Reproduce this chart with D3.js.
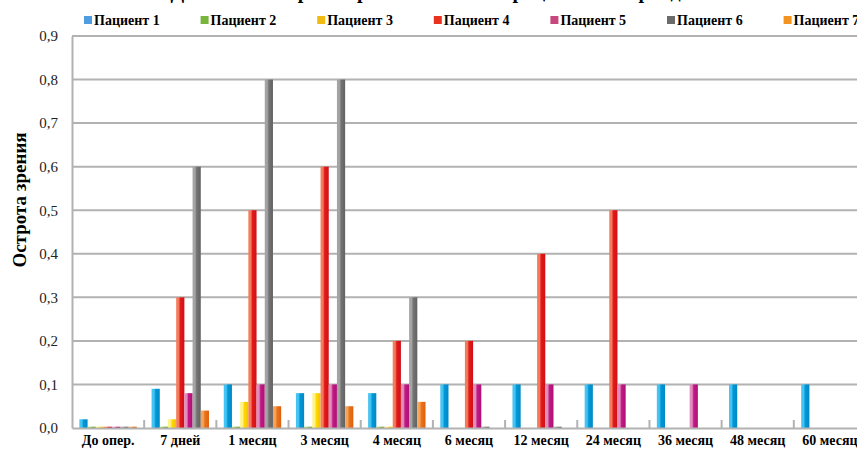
<!DOCTYPE html>
<html>
<head>
<meta charset="utf-8">
<script src="https://cdn.jsdelivr.net/npm/d3@7"></script>
<style>
  html, body { margin: 0; padding: 0; background: #fff; }
  svg { display: block; }
  text { font-family: "Liberation Serif", "Times New Roman", serif; }
</style>
</head>
<body>
<svg id="chart" width="857" height="450"></svg>
<script>
// Periods of observation
const categories = ["До опер.", "7 дней", "1 месяц", "3 месяц", "4 месяц", "6 месяц",
  "12 месяц", "24 месяц", "36 месяц", "48 месяц", "60 месяц"];

const seriesNames = ["Пациент 1", "Пациент 2", "Пациент 3", "Пациент 4",
  "Пациент 5", "Пациент 6", "Пациент 7"];

// Visual acuity per patient (null = no measurement)
const patient1 = [0.02, 0.09, 0.1, 0.08, 0.08, 0.1, 0.1, 0.1, 0.1, 0.1, 0.1];
const patient2 = [0.003, 0.003, 0.003, 0.003, 0.003, null, null, null, null, null, null];
const patient3 = [0.003, 0.02, 0.06, 0.08, 0.003, null, null, null, null, null, null];
const patient4 = [0.003, 0.3, 0.5, 0.6, 0.2, 0.2, 0.4, 0.5, null, null, null];
const patient5 = [0.003, 0.08, 0.1, 0.1, 0.1, 0.1, 0.1, 0.1, 0.1, null, null];
const patient6 = [0.003, 0.6, 0.8, 0.8, 0.3, 0.003, 0.003, null, null, null, null];
const patient7 = [0.003, 0.04, 0.05, 0.05, 0.06, null, null, null, null, null, null];

const yTicks = [0, 0.1, 0.2, 0.3, 0.4, 0.5, 0.6, 0.7, 0.8, 0.9];

const allSeries = [patient1, patient2, patient3, patient4, patient5, patient6, patient7];

// Bar shading (light edge, main, dark edge) and legend swatch colours
const barShades = [
  ["#45c3f2", "#0098d8", "#0088c6"],
  ["#b2d86a", "#78ad34", "#6a9e2a"],
  ["#fff386", "#ffd800", "#f2c000"],
  ["#f47c5c", "#e21a1a", "#cf1016"],
  ["#e28cc0", "#c21a82", "#ae1076"],
  ["#a4a4a4", "#747474", "#626262"],
  ["#f6a458", "#ea721c", "#de6010"]
];
const legendColors = ["#4f9de0", "#77b53c", "#f2bb13", "#e8321f", "#c8477c", "#6b6b6b", "#f39420"];

const svg = d3.select("#chart");
const plot = { left: 72, right: 866, top: 36, bottom: 428 };

const x0 = d3.scaleBand().domain(categories).range([plot.left, plot.right]).padding(0);
const x1 = d3.scaleBand().domain(seriesNames).range([0, x0.bandwidth()])
  .paddingInner(0).paddingOuter(0.9);
const y = d3.scaleLinear().domain([0, 0.9]).range([plot.bottom, plot.top]);

// Gradients for the cylindrical look of the bars
const defs = svg.append("defs");
barShades.forEach((s, i) => {
  const g = defs.append("linearGradient").attr("id", "grad" + i)
    .attr("x1", "0").attr("x2", "1").attr("y1", "0").attr("y2", "0");
  g.append("stop").attr("offset", "0").attr("stop-color", s[0]);
  g.append("stop").attr("offset", "0.3").attr("stop-color", s[0]);
  g.append("stop").attr("offset", "0.5").attr("stop-color", s[1]);
  g.append("stop").attr("offset", "1").attr("stop-color", s[2]);
});

// Title (sits above the top edge of the canvas)
svg.append("text")
  .attr("x", 430).attr("y", -2)
  .attr("text-anchor", "middle")
  .attr("font-size", 20).attr("font-weight", "bold").attr("fill", "#000")
  .text("Динамика остроты зрения в послеоперационном периоде");

// Horizontal grid lines
svg.append("g")
  .selectAll("line")
  .data(yTicks.filter(t => t > 0))
  .join("line")
  .attr("x1", plot.left).attr("x2", plot.right)
  .attr("y1", d => y(d)).attr("y2", d => y(d))
  .attr("stroke", "#b2b2b2").attr("stroke-width", 2);

// Y axis
const yAxis = d3.axisLeft(y).tickValues(yTicks).tickSize(0).tickPadding(14)
  .tickFormat(d => d3.format(".1f")(d).replace(".", ","));
const gy = svg.append("g").attr("transform", `translate(${plot.left},0)`).call(yAxis);
gy.select(".domain").attr("stroke", "#b2b2b2").attr("stroke-width", 2);
gy.selectAll("text").attr("font-size", 15).attr("fill", "#222")
  .style("font-family", "'Liberation Serif', 'Times New Roman', serif");

// Y axis title
svg.append("text")
  .attr("transform", `translate(26, 200) rotate(-90)`)
  .attr("text-anchor", "middle")
  .attr("font-size", 19).attr("font-weight", "bold").attr("fill", "#000")
  .text("Острота зрения");

// Bars
const groups = svg.append("g")
  .selectAll("g")
  .data(categories)
  .join("g")
  .attr("transform", d => `translate(${x0(d)},0)`);

groups.selectAll("rect")
  .data((c, ci) => seriesNames.map((s, si) => ({ s, si, v: allSeries[si][ci] }))
    .filter(d => d.v !== null))
  .join("rect")
  .attr("x", d => x1(d.s))
  .attr("width", x1.bandwidth())
  .attr("y", d => y(d.v))
  .attr("height", d => y(0) - y(d.v))
  .attr("fill", d => `url(#grad${d.si})`);

// X axis baseline and category separators
const xAxis = d3.axisBottom(x0).tickSize(0).tickPadding(7);
const gx = svg.append("g").attr("transform", `translate(0,${plot.bottom})`).call(xAxis);
gx.select(".domain").attr("stroke", "#b2b2b2").attr("stroke-width", 2);
gx.selectAll("text").attr("font-size", 14).attr("font-weight", "bold").attr("fill", "#000")
  .style("font-family", "'Liberation Serif', 'Times New Roman', serif");

svg.append("g")
  .selectAll("line")
  .data(categories.slice(1))
  .join("line")
  .attr("x1", d => x0(d)).attr("x2", d => x0(d))
  .attr("y1", plot.bottom - 8).attr("y2", plot.bottom)
  .attr("stroke", "#b2b2b2").attr("stroke-width", 2);

// Legend
const legend = svg.append("g")
  .selectAll("g")
  .data(seriesNames)
  .join("g")
  .attr("transform", (d, i) => `translate(${84 + i * 116.6},0)`);
legend.append("rect")
  .attr("x", 0).attr("y", 16).attr("width", 8).attr("height", 8)
  .attr("fill", (d, i) => legendColors[i]);
legend.append("text")
  .attr("x", 10).attr("y", 25)
  .attr("font-size", 14).attr("font-weight", "bold").attr("fill", "#000")
  .text(d => d);
</script>
</body>
</html>
